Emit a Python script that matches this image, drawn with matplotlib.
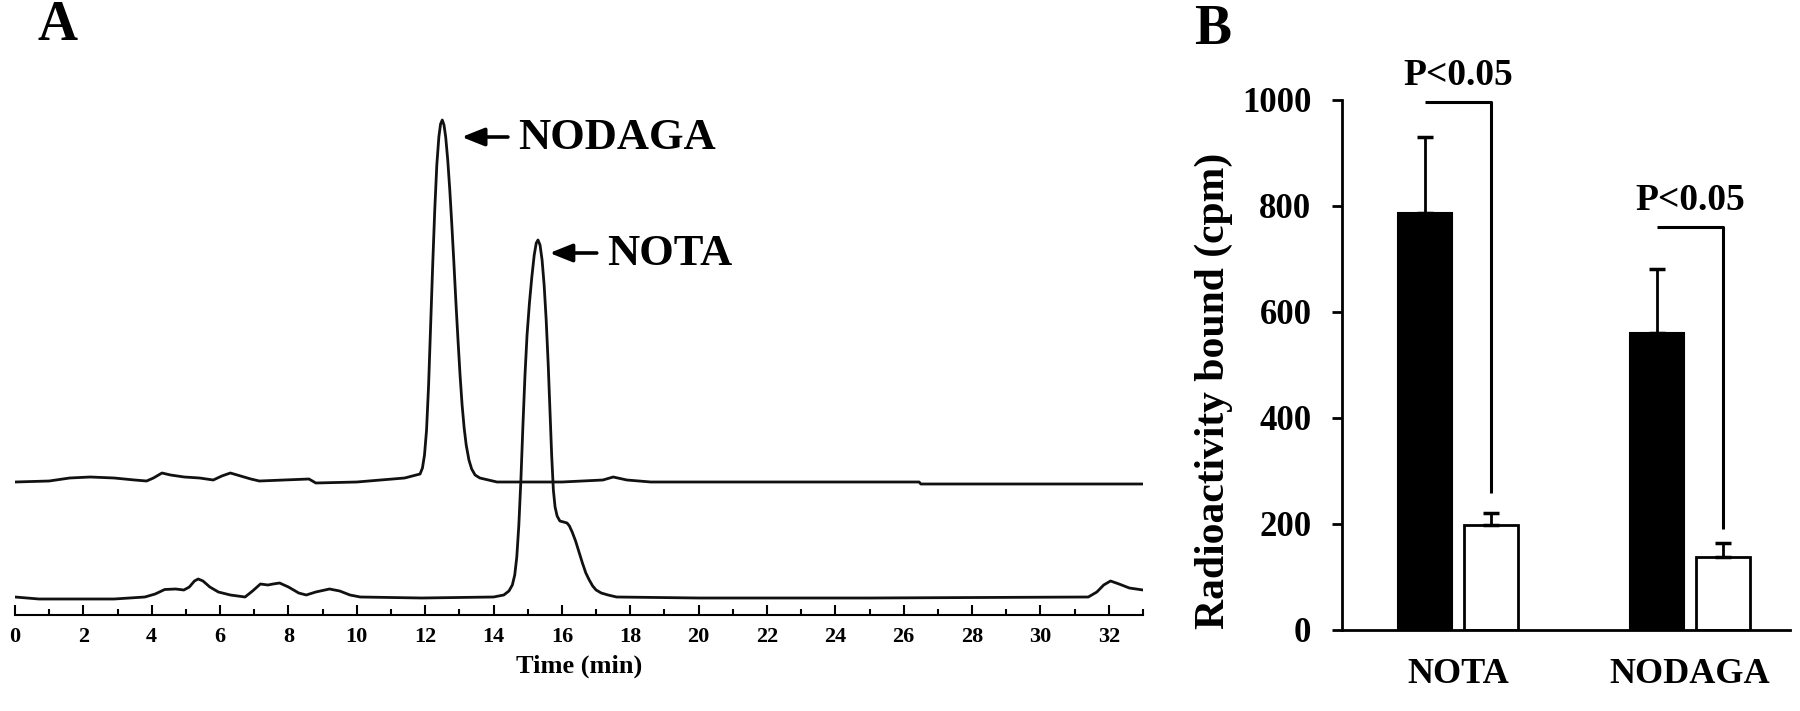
import matplotlib
matplotlib.use("Agg")
import matplotlib.pyplot as plt
from matplotlib.ticker import MultipleLocator

plt.rcParams['font.family'] = ['Liberation Serif', 'DejaVu Serif']
plt.rcParams['font.weight'] = 'bold'

# ---- panel A: radio-HPLC traces (time in min, signal in arbitrary units) ----
nodaga_t = [0, 1, 1.6, 2.2, 2.9, 3.5, 3.85, 4.05, 4.3, 4.55, 4.95, 5.4, 5.8, 6.05, 6.3,
            6.6, 6.9, 7.15, 8.6, 8.8, 10, 11.4, 11.85,
            11.92, 11.98, 12.04, 12.1, 12.16, 12.22, 12.28, 12.34, 12.4, 12.45, 12.5,
            12.55, 12.6, 12.66, 12.72, 12.78, 12.84, 12.9, 12.96, 13.02, 13.08, 13.14,
            13.2, 13.28, 13.36, 13.46, 13.6, 14.1, 16, 17.2, 17.5, 17.9, 18.6,
            22, 26.45, 26.5, 30, 33]
nodaga_y = [133, 134, 137, 138, 137, 135, 134, 137, 142, 140, 138, 137, 135, 139, 142,
            139, 136, 134, 136, 132, 133, 137, 141,
            147, 160, 185, 230, 290, 350, 405, 450, 478, 491, 495,
            490, 478, 455, 425, 390, 352, 312, 275, 240, 210, 187,
            170, 155, 146, 140, 137, 133, 133, 135, 138, 135, 133,
            133, 133, 131, 131, 131]

nota_t = [0, 0.7, 2.9, 3.8, 4.1, 4.38, 4.7, 4.94, 5.1, 5.25, 5.36, 5.5, 5.7, 5.95, 6.3,
          6.73, 6.95, 7.18, 7.4, 7.55, 7.74, 8.0, 8.3, 8.52, 8.8, 9.2, 9.5, 9.8, 10.1,
          11.9, 14.0, 14.3, 14.45, 14.55, 14.62, 14.68, 14.74, 14.8, 14.86, 14.92,
          14.98, 15.05, 15.12, 15.19, 15.25, 15.3, 15.36, 15.42, 15.48, 15.54, 15.6,
          15.65, 15.7, 15.75, 15.8, 15.86, 15.94, 16.05, 16.15, 16.22, 16.3, 16.4,
          16.5, 16.6, 16.7, 16.8, 16.9, 17.0, 17.15, 17.35, 17.6, 20, 25, 31.4,
          31.65, 31.85, 32.05, 32.3, 32.6, 33]
nota_y = [18, 16, 16, 18, 21, 25.5, 26, 25, 28, 34, 36, 34, 28, 23, 20,
          18, 24, 31, 30, 31, 32, 28, 22, 20, 23, 26, 24, 20, 18,
          17, 18, 20, 24, 30, 40, 58, 90, 135, 190, 240,
          280, 312, 338, 360, 372, 375, 370, 355, 330, 295, 250,
          205, 160, 125, 108, 99, 94, 93, 92, 89, 83, 74,
          63, 52, 42, 35, 29, 25, 22, 20, 18, 17, 17, 18,
          23, 30, 34, 31, 27, 25]

# ---- panel B: bound radioactivity (cpm) ----
groups = ['NOTA', 'NODAGA']
black_mean = [787, 560]
black_err = [143, 122]
white_mean = [198, 137]
white_err = [23, 27]
bracket_top = [996, 761]
bracket_bottom = [258, 190]
p_text = ['P<0.05', 'P<0.05']

fig = plt.figure(figsize=(18, 7.11), dpi=100)

# panel A
axA = fig.add_axes([15 / 1800, 1 - 615 / 711, 1128 / 1800, 520 / 711])
axA.plot(nodaga_t, nodaga_y, color='#111111', lw=2.0)
axA.plot(nota_t, nota_y, color='#111111', lw=2.0)
axA.set_xlim(0, 33)
axA.set_ylim(0, 520)
for s in ['top', 'right', 'left']:
    axA.spines[s].set_visible(False)
axA.spines['bottom'].set_linewidth(1.5)
axA.set_yticks([])
axA.xaxis.set_major_locator(MultipleLocator(2))
axA.xaxis.set_minor_locator(MultipleLocator(1))
axA.tick_params(axis='x', which='major', direction='in', length=7, width=1.5,
                labelsize=16, pad=9)
axA.tick_params(axis='x', which='minor', direction='in', length=4, width=1.5)
axA.set_xticklabels([str(int(v)) for v in axA.get_xticks()], fontweight='bold')
axA.set_xlabel('Time (min)', fontsize=19, fontweight='bold', labelpad=5)

arrow = dict(arrowstyle='-|>,head_length=0.55,head_width=0.22', lw=2.6, color='black',
             mutation_scale=25, shrinkA=0, shrinkB=0)
axA.annotate('', xy=(13.07, 478), xytext=(14.42, 478), arrowprops=arrow)
axA.text(14.71, 477, 'NODAGA', fontsize=32, fontweight='bold', va='center', ha='left')
axA.annotate('', xy=(15.64, 362), xytext=(17.02, 362), arrowprops=arrow)
axA.text(17.31, 361, 'NOTA', fontsize=32, fontweight='bold', va='center', ha='left')

fig.text(57 / 1800, 1 - 26 / 711, 'A', fontsize=40, fontweight='bold', ha='center', va='center')

# panel B
axB = fig.add_axes([1342 / 1800, 1 - 630 / 711, 448 / 1800, 530 / 711])
xs = [0, 1]
off = 0.142
w = 0.23
axB.bar([x - off for x in xs], black_mean, width=w, color='black', edgecolor='black', lw=1.5)
axB.bar([x + off for x in xs], white_mean, width=w, color='white', edgecolor='black', lw=2)
axB.errorbar([x - off for x in xs], black_mean, yerr=[[0, 0], black_err], fmt='none',
             ecolor='black', elinewidth=2, capsize=6, capthick=2.5)
axB.errorbar([x + off for x in xs], white_mean, yerr=[[0, 0], white_err], fmt='none',
             ecolor='black', elinewidth=2, capsize=6, capthick=2.5)
for x, top, bot, txt in zip(xs, bracket_top, bracket_bottom, p_text):
    axB.plot([x - off, x + off, x + off], [top, top, bot], color='black', lw=2.2,
             solid_capstyle='butt', clip_on=False)
    axB.text(x, top + 50, txt, fontsize=27, fontweight='bold', ha='center', va='center')

axB.set_xlim(-0.5, -0.5 + 448 / 232)
axB.set_ylim(0, 1000)
for s in ['top', 'right']:
    axB.spines[s].set_visible(False)
axB.spines['left'].set_linewidth(2)
axB.spines['bottom'].set_linewidth(2)
axB.set_yticks(range(0, 1001, 200))
axB.set_yticklabels([str(v) for v in range(0, 1001, 200)], fontweight='bold')
axB.tick_params(axis='y', direction='out', length=7, width=2, labelsize=25, pad=15)
axB.set_xticks(xs)
axB.set_xticklabels(groups, fontweight='bold')
axB.tick_params(axis='x', length=0, labelsize=26, pad=20)

fig.text(1214 / 1800, 1 - 391 / 711, 'Radioactivity bound (cpm)', fontsize=30,
         fontweight='bold', rotation=90, ha='center', va='center')
fig.text(1213 / 1800, 1 - 30 / 711, 'B', fontsize=40, fontweight='bold', ha='center', va='center')

fig.savefig('out.png', dpi=100)
